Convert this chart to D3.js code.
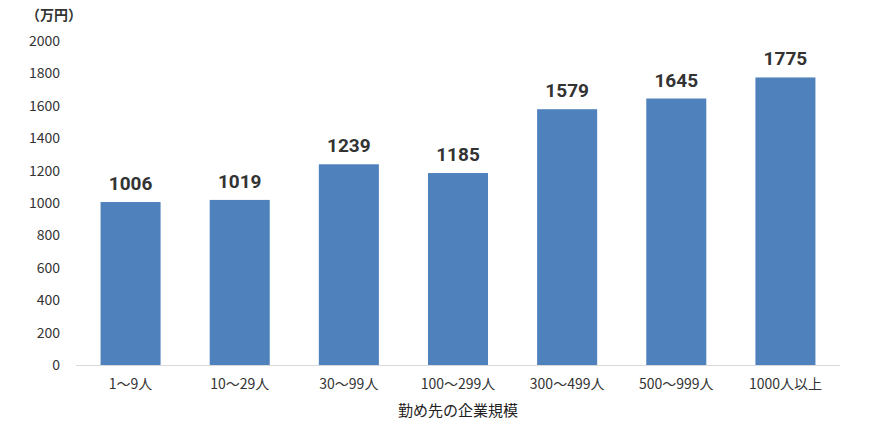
<!DOCTYPE html>
<html><head><meta charset="utf-8">
<script src="https://cdn.jsdelivr.net/npm/d3@7"></script>
<style>body{margin:0;background:#fff}svg{font-family:"Noto Sans CJK JP",sans-serif}</style>
</head><body><svg id="c" width="870" height="433"></svg>
<script>
const categories=["1～9人","10～29人","30～99人","100～299人","300～499人","500～999人","1000人以上"];
const values=[1006,1019,1239,1185,1579,1645,1775];
const yTicks=[0,200,400,600,800,1000,1200,1400,1600,1800,2000];
const svg=d3.select("#c");
const x=d3.scaleBand().domain(categories).range([76,840]).paddingInner(0.45).paddingOuter(0.225);
const y=d3.scaleLinear().domain([0,2000]).range([365,41]);
svg.append("line").attr("x1",76).attr("x2",840).attr("y1",y(0)+0.5).attr("y2",y(0)+0.5).attr("stroke","#d9d9d9");
svg.selectAll("text.yt").data(yTicks).join("text").attr("x",60).attr("y",d=>y(d)+5)
 .attr("text-anchor","end").attr("font-size",14).attr("fill","#333").text(d=>d);
svg.selectAll("rect").data(values).join("rect").attr("x",(d,i)=>x(categories[i])).attr("width",x.bandwidth())
 .attr("y",d=>y(d)).attr("height",d=>y(0)-y(d)).attr("fill","#4f81bd");
svg.selectAll("text.v").data(values).join("text").attr("x",(d,i)=>x(categories[i])+x.bandwidth()/2)
 .attr("y",d=>y(d)-12).attr("text-anchor","middle").attr("font-size",19).attr("font-weight","bold")
 .attr("font-family","Roboto, sans-serif").attr("fill","#333").text(d=>d);
svg.selectAll("text.xc").data(categories).join("text").attr("x",d=>x(d)+x.bandwidth()/2).attr("y",389)
 .attr("text-anchor","middle").attr("font-size",14).attr("fill","#333").text(d=>d);
svg.append("text").attr("x",458).attr("y",416).attr("text-anchor","middle").attr("font-size",15).attr("fill","#222").text("勤め先の企業規模");
svg.append("text").attr("x",26).attr("y",20).attr("font-size",14).attr("font-weight","bold").attr("fill","#333").text("（万円）");
</script></body></html>
